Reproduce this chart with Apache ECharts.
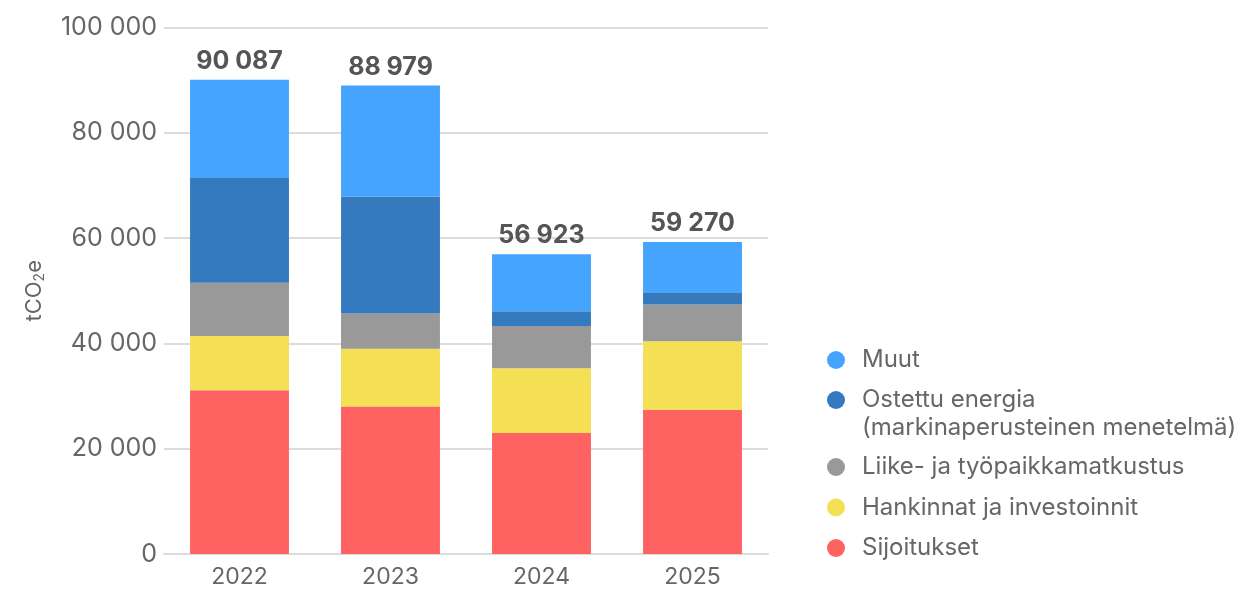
<!DOCTYPE html>
<html><head><meta charset="utf-8">
<script src="https://cdn.jsdelivr.net/npm/echarts@6/dist/echarts.min.js"></script>
<style>html,body{margin:0;padding:0;background:#fff}#c{width:1244px;height:589px}</style>
</head><body><div id="c"></div>
<script>
const years = ['2022', '2023', '2024', '2025'];
const sijoitukset = [31100, 28000, 23000, 27400];
const hankinnat = [10300, 11000, 12300, 13000];
const liike = [10100, 6700, 8000, 7000];
const energia = [19900, 22200, 2800, 2300];
const muut = [18687, 21079, 10823, 9570];
const yTicks = [0, 20000, 40000, 60000, 80000, 100000];

const names = {
  sij: 'Sijoitukset',
  han: 'Hankinnat ja investoinnit',
  lii: 'Liike- ja työpaikkamatkustus',
  ene: 'Ostettu energia\n(markinaperusteinen menetelmä)',
  muu: 'Muut'
};
const colors = { sij: '#fe6261', han: '#f5df55', lii: '#999999', ene: '#3579be', muu: '#45a4fd' };
const totals = years.map((_, i) => sijoitukset[i] + hankinnat[i] + liike[i] + energia[i] + muut[i]);
const fmt = v => String(Math.round(v)).replace(/\B(?=(\d{3})+(?!\d))/g, ' ');
const FONT = 'Inter';

function bar(key, data, extra) {
  return Object.assign({
    name: names[key], type: 'bar', stack: 'total', data: data, barWidth: '65.5%',
    itemStyle: { color: colors[key] }, emphasis: { disabled: true }
  }, extra || {});
}
const legendText = { fontFamily: FONT, fontSize: 24, color: '#666', lineHeight: 28, padding: [0, 0, 0, 12] };
function legend(top, gap, data, extra) {
  return Object.assign({
    orient: 'vertical', left: 827, top: top, padding: 0, itemGap: gap,
    icon: 'circle', itemWidth: 18, itemHeight: 18, selectedMode: false,
    textStyle: legendText,
    data: data
  }, extra || {});
}
const chart = echarts.init(document.getElementById('c'));
chart.setOption({
  animation: false,
  textStyle: { fontFamily: FONT },
  grid: { left: 164, right: 476, top: 27.5, bottom: 33, containLabel: false },
  legend: [
    legend(346, 12, [{ name: names.muu }]),
    legend(358, 12, [{ name: names.ene }], { formatter: n => ' \n' + n }),
    legend(453, 12.5, [{ name: names.lii }, { name: names.han }, { name: names.sij }])
  ],
  xAxis: {
    type: 'category', data: years,
    axisLine: { show: true, lineStyle: { color: '#dcdcdc', width: 2 } },
    axisTick: { show: false },
    axisLabel: { fontFamily: FONT, fontSize: 23, color: '#666', margin: 12 }
  },
  yAxis: {
    type: 'value', min: yTicks[0], max: yTicks[yTicks.length - 1], interval: 20000,
    name: '{a|tCO}{b|2}{a|e}', nameLocation: 'middle', nameGap: 117, nameRotate: 90,
    nameTextStyle: {
      rich: {
        a: { fontFamily: FONT, fontSize: 22, color: '#666', lineHeight: 26 },
        b: { fontFamily: FONT, fontSize: 14, color: '#666', lineHeight: 13, verticalAlign: 'bottom' }
      }
    },
    axisLine: { show: false }, axisTick: { show: false },
    splitLine: { lineStyle: { color: '#dcdcdc', width: 2 } },
    axisLabel: { fontFamily: FONT, fontSize: 25, color: '#666', margin: 7, formatter: v => fmt(v) }
  },
  series: [
    bar('sij', sijoitukset),
    bar('han', hankinnat),
    bar('lii', liike),
    bar('ene', energia),
    bar('muu', muut, {
      label: {
        show: true, position: 'top', distance: 6,
        fontFamily: FONT, fontSize: 25, fontWeight: 'bold', color: '#555',
        formatter: p => fmt(totals[p.dataIndex])
      }
    })
  ]
});
</script></body></html>
